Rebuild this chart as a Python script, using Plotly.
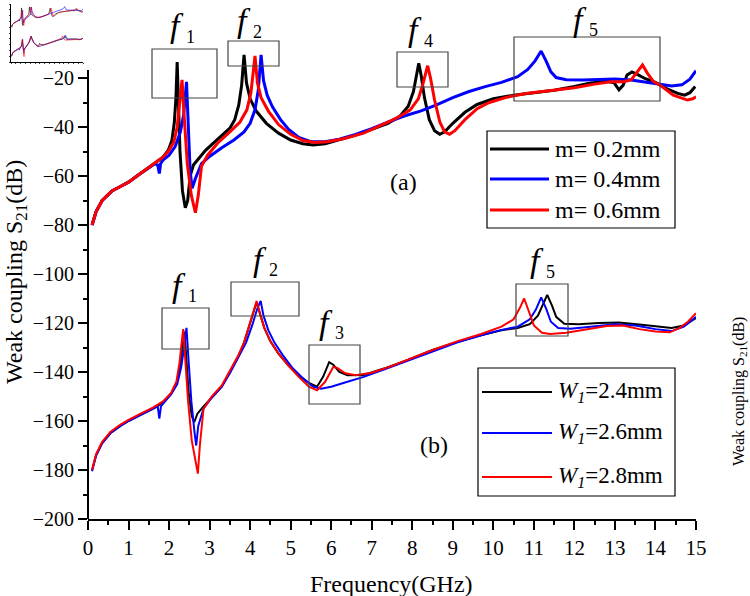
import plotly.graph_objects as go

W, H = 750, 596
FONT = "Liberation Serif, Times New Roman, Times, serif"

# ---------------- data (frequency in GHz, S21 in dB on left axis) ----------------
# panel (a): m = 0.2 / 0.4 / 0.6 mm
freq_a_m02 = [0.1, 0.2, 0.35, 0.6, 0.8, 1.0, 1.25, 1.5, 1.7, 1.85, 1.98, 2.07, 2.13, 2.17, 2.2, 2.23, 2.27, 2.33,
              2.4, 2.46, 2.52, 2.6, 2.75, 2.9, 3.1, 3.3, 3.5, 3.62, 3.72, 3.79, 3.85, 3.91, 4.0, 4.15, 4.4, 4.7,
              5.0, 5.3, 5.55, 5.85, 6.2, 6.6, 7.0, 7.4, 7.7, 7.9, 8.03, 8.1, 8.16, 8.22, 8.3, 8.42, 8.55, 8.68,
              8.8, 9.0, 9.3, 9.6, 10.0, 10.5, 11.0, 11.5, 12.0, 12.4, 12.8, 12.98, 13.1, 13.2, 13.3, 13.42,
              13.55, 13.75, 14.0, 14.12, 14.3, 14.55, 14.72, 14.85, 14.98]
s21_a_m02 = [-80, -74.5, -70, -66, -64.3, -62.5, -59.5, -56.5, -54.3, -52.3, -49.5, -45.5, -38, -28, -13.5, -30, -50,
             -66, -73, -70, -60, -55.5, -52.5, -49.5, -46.5, -43.5, -40.5, -37, -31, -23, -10.6, -22, -28.5,
             -33.5, -38.5, -42.5, -45.3, -46.8, -47.3, -46.8, -45.3, -43.3, -41, -38.5, -35.5, -31.5, -25.5, -20,
             -14, -19, -28, -37, -41.5, -43, -42, -38.5, -34, -30.8, -28.5, -27, -26, -25, -23.5, -22, -21.3,
             -22, -24.8, -23, -18.8, -17.5, -18.5, -20.3, -21.8, -22.9, -24.5, -26.3, -27, -26, -23.5]

freq_a_m04 = [0.1, 0.2, 0.35, 0.6, 0.8, 1.0, 1.25, 1.5, 1.65, 1.72, 1.76, 1.79, 1.85, 2.0, 2.15, 2.28, 2.36, 2.43,
              2.47, 2.52, 2.57, 2.65, 2.8, 3.0, 3.3, 3.6, 3.85, 4.0, 4.12, 4.2, 4.27, 4.33, 4.42, 4.55, 4.75,
              4.95, 5.2, 5.5, 5.85, 6.2, 6.6, 7.0, 7.4, 7.8, 8.2, 8.6, 9.0, 9.4, 9.8, 10.2, 10.6, 10.85, 11.03,
              11.18, 11.3, 11.42, 11.55, 11.8, 12.2, 12.6, 13.0, 13.4, 13.8, 14.12, 14.4, 14.65, 14.85, 15.0]
s21_a_m04 = [-80, -74.5, -70, -66, -64.3, -62.5, -59.5, -56.8, -55, -55.5, -59, -55, -53.5, -51.5, -48, -42, -35,
             -21.6, -40, -58, -65, -61, -55, -52, -48.5, -45.3, -42, -38.5, -33, -25, -10.6, -21, -27, -31.8,
             -37, -41, -44.3, -46, -46, -45, -43, -40.7, -38, -35.5, -33.5, -31, -28, -25.5, -23.5, -21.8,
             -19.5, -16.5, -13, -9, -13, -17.5, -19.8, -20.7, -20.8, -20.6, -20.4, -20.8, -21.8, -22.9, -23.3,
             -22.8, -20.5, -17]

freq_a_m06 = [0.1, 0.2, 0.35, 0.6, 0.8, 1.0, 1.25, 1.5, 1.7, 1.85, 2.0, 2.12, 2.2, 2.27, 2.32, 2.37, 2.45, 2.55,
              2.65, 2.72, 2.8, 2.95, 3.2, 3.5, 3.75, 3.92, 4.02, 4.12, 4.18, 4.27, 4.45, 4.7, 5.0, 5.3, 5.6, 5.9,
              6.3, 6.8, 7.2, 7.6, 7.95, 8.15, 8.27, 8.38, 8.45, 8.55, 8.68, 8.8, 8.92, 9.05, 9.3, 9.6, 9.9, 10.3,
              10.8, 11.4, 12.0, 12.5, 12.9, 13.2, 13.4, 13.55, 13.68, 13.8, 13.95, 14.12, 14.44, 14.79, 14.92,
              15.0]
s21_a_m06 = [-80, -74.5, -70, -66, -64.3, -62.5, -59.5, -56.5, -54.3, -52.3, -49.5, -46, -40, -30, -20.8, -35, -55,
             -68, -75, -68, -56, -51.5, -46.5, -42, -38, -33, -26, -11, -22, -28, -33.5, -39, -43, -45.5,
             -46.3, -46, -44.8, -42.5, -39.5, -36.5, -33, -28.5, -22, -15, -20, -29, -38, -42, -43, -41.5, -37,
             -32.5, -30, -28, -26.3, -25.2, -24, -22.5, -21.5, -21.5, -20.8, -17.5, -14.7, -18, -21.5, -23, -27,
             -29, -28.5, -27.7]

# panel (b): W1 = 2.4 / 2.6 / 2.8 mm (plotted 100 dB lower on the left axis)
freq_b_w24 = [0.1, 0.2, 0.35, 0.55, 0.8, 1.0, 1.3, 1.6, 1.85, 2.05, 2.18, 2.27, 2.33, 2.38, 2.42, 2.48, 2.56, 2.62,
              2.7, 2.85, 3.05, 3.3, 3.5, 3.7, 3.85, 3.98, 4.08, 4.16, 4.24, 4.35, 4.5, 4.7, 4.95, 5.2, 5.45, 5.65,
              5.8, 5.95, 6.05, 6.2, 6.4, 6.8, 7.3, 7.9, 8.5, 9.1, 9.7, 10.2, 10.6, 10.9, 11.1, 11.33, 11.45, 11.55,
              11.75, 12.1, 12.6, 13.1, 13.6, 14.1, 14.4, 14.7, 15.0]
s21_b_w24 = [-180, -174, -169, -165, -162, -160, -157.5, -155, -152.5, -149, -145, -138, -130, -123.5, -133, -148,
             -158, -160.5, -157, -154, -150.5, -146, -140, -134, -128, -121, -115, -111.5, -116, -122, -127.5,
             -132.5, -137.5, -141.5, -144.5, -146, -142, -136, -137, -140, -141.3, -141.2, -138.6, -135, -131,
             -127.8, -125, -123, -122, -120.5, -117, -108.5, -113, -117.5, -120.3, -120.5, -120, -119.8, -120.6,
             -121.5, -122, -121, -118]

freq_b_w26 = [0.1, 0.2, 0.35, 0.55, 0.8, 1.0, 1.3, 1.6, 1.72, 1.76, 1.8, 1.9, 2.05, 2.2, 2.3, 2.37, 2.43, 2.48,
              2.55, 2.63, 2.67, 2.72, 2.85, 3.05, 3.3, 3.5, 3.7, 3.9, 4.05, 4.18, 4.26, 4.33, 4.45, 4.6, 4.8, 5.05,
              5.3, 5.55, 5.75, 6.0, 6.3, 6.8, 7.3, 7.9, 8.5, 9.1, 9.7, 10.2, 10.6, 10.9, 11.05, 11.18, 11.3, 11.42,
              11.6, 11.9, 12.4, 13.0, 13.5, 14.0, 14.4, 14.7, 15.0]
s21_b_w26 = [-180.5, -174, -169, -165, -162, -160, -157.5, -155, -154, -159, -154, -152, -149, -145, -138, -130,
             -122, -135, -152, -165, -170, -162, -155, -150.5, -146, -140.5, -134.5, -128, -121, -114, -111,
             -117, -123, -128, -133, -138.5, -142.5, -146, -146.8, -146, -144.5, -142, -139, -135.3, -131.5,
             -128, -125, -122.8, -121.5, -118.5, -114.5, -109.5, -114, -119.5, -122, -122.3, -121.5, -120.5,
             -121, -122.5, -123.3, -121.5, -117.5]

freq_b_w28 = [0.1, 0.2, 0.35, 0.55, 0.8, 1.0, 1.3, 1.6, 1.85, 2.05, 2.18, 2.26, 2.31, 2.35, 2.4, 2.47, 2.56, 2.66,
              2.71, 2.76, 2.85, 3.05, 3.3, 3.5, 3.7, 3.85, 3.98, 4.08, 4.16, 4.24, 4.35, 4.5, 4.7, 4.95, 5.2, 5.45,
              5.65, 5.85, 6.05, 6.15, 6.35, 6.6, 7.0, 7.5, 8.0, 8.5, 9.1, 9.7, 10.2, 10.5, 10.65, 10.76, 10.87,
              11.0, 11.2, 11.4, 11.8, 12.3, 12.8, 13.2, 13.6, 14.0, 14.35, 14.6, 14.8, 15.0]
s21_b_w28 = [-180, -173.5, -168.5, -164.5, -161.5, -159.5, -157, -154.5, -152, -148.5, -144, -136, -128, -122.5,
             -135, -152, -168, -178, -181.5, -170, -155, -150, -145.5, -139.5, -133.5, -128, -121, -115, -111,
             -116, -122, -127.5, -132.5, -137.5, -142, -146, -147.5, -144, -138, -138.3, -140.5, -141.3, -140.3,
             -137.5, -134.3, -131, -127.5, -124.5, -121.5, -118.5, -114, -110, -115, -121, -124, -124.5, -124,
             -122.5, -121.2, -121, -122.5, -123.5, -123.8, -122, -119.5, -116]

legend_a_labels = ["m= 0.2mm", "m= 0.4mm", "m= 0.6mm"]
legend_b_labels = ["<i>W</i><sub><i>1</i></sub>=2.4mm", "<i>W</i><sub><i>1</i></sub>=2.6mm",
                   "<i>W</i><sub><i>1</i></sub>=2.8mm"]
x_ticks = list(range(0, 16))
left_ticks = list(range(-200, 0, 20))
right_ticks = list(range(-100, 1, 20))

# ---------------- helpers ----------------
def px(x):
    return x / W


def py(y):
    return 1 - y / H


COL = {"k": "#000000", "b": "#0000ff", "r": "#ff0000"}

series = [
    (freq_a_m02, s21_a_m02, COL["k"], 3),
    (freq_a_m04, s21_a_m04, COL["b"], 3),
    (freq_a_m06, s21_a_m06, COL["r"], 3),
    (freq_b_w24, s21_b_w24, COL["k"], 2),
    (freq_b_w26, s21_b_w26, COL["b"], 2),
    (freq_b_w28, s21_b_w28, COL["r"], 2),
]

fig = go.Figure()
for f, s, c, w in series:
    fig.add_trace(go.Scatter(x=f, y=s, mode="lines", line=dict(color=c, width=w),
                             xaxis="x", yaxis="y", showlegend=False, hoverinfo="skip"))
for f, s, c, w in series:
    fig.add_trace(go.Scatter(x=f, y=s, mode="lines", line=dict(color=c, width=0.6),
                             xaxis="x3", yaxis="y3", showlegend=False, hoverinfo="skip"))

X0, X1 = 88, 696          # pixel positions of 0 and 15 GHz
Y_BOT, Y_TOP = 519, 29     # pixel positions of -200 and 0 dB (left axis)
Y_R0 = 274                 # right axis 0 dB

fig.update_layout(
    width=W, height=H, margin=dict(l=0, r=0, t=0, b=0),
    template="none", paper_bgcolor="white", plot_bgcolor="rgba(0,0,0,0)",
    font=dict(family=FONT, color="black"),
    showlegend=False,
    xaxis=dict(domain=[px(X0), px(X1)], range=[0, 15], anchor="y", tickmode="array", tickvals=x_ticks,
               ticks="outside", ticklen=9, tickwidth=1.5, tickcolor="black", showline=True, linewidth=2,
               linecolor="black", showgrid=False, zeroline=False, tickfont=dict(size=21, family=FONT),
               minor=dict(tickmode="array", tickvals=[i + 0.5 for i in range(15)], ticks="outside",
                          ticklen=4, tickwidth=1.5, tickcolor="black", showgrid=False),
               automargin=False),
    yaxis=dict(domain=[py(Y_BOT), py(Y_TOP)], range=[-200, 0], anchor="x", tickmode="array", tickvals=left_ticks,
               ticks="outside", ticklen=9, tickwidth=1.5, tickcolor="black", showline=False, showgrid=False,
               zeroline=False, tickfont=dict(size=20, family=FONT),
               minor=dict(tickmode="array", tickvals=list(range(-190, -20, 20)), ticks="outside", ticklen=4,
                          tickwidth=1.5, tickcolor="black", showgrid=False),
               automargin=False),
    yaxis2=dict(domain=[py(Y_BOT), py(Y_R0)], range=[-100, 0], anchor="x", side="right", tickmode="array",
                tickvals=right_ticks, ticks="inside", ticklen=6, tickwidth=1.5, tickcolor="black",
                showline=True, linewidth=2, linecolor="black", showgrid=False, zeroline=False,
                tickfont=dict(size=14, family=FONT),
                minor=dict(tickmode="array", tickvals=list(range(-90, 0, 20)), ticks="inside", ticklen=3,
                           tickwidth=1.5, tickcolor="black", showgrid=False),
                automargin=False),
    xaxis3=dict(domain=[px(11), px(83)], range=[0, 15], anchor="y3", showline=True, linewidth=0.8,
                linecolor="black", ticks="outside", ticklen=1.5, tickwidth=0.5, dtick=1,
                showticklabels=False, showgrid=False, zeroline=False, automargin=False),
    yaxis3=dict(domain=[py(62), py(4)], range=[-200, 0], anchor="x3", showline=True, linewidth=0.8,
                linecolor="black", ticks="outside", ticklen=1.5, tickwidth=0.5, dtick=20,
                showticklabels=False, showgrid=False, zeroline=False, automargin=False),
)

shapes = []
# partial left axis line
shapes.append(dict(type="line", xref="paper", yref="y", x0=px(X0), x1=px(X0), y0=-200, y1=-16.7,
                   line=dict(color="black", width=2)))

# peak marker boxes (pixel coordinates)
boxes = [(152, 49, 217, 98), (228, 41, 279, 66), (397, 52, 448, 87), (514, 37, 660, 101),
         (162, 308, 209, 349), (231, 282, 299, 316), (309, 345, 360, 404), (516, 284, 568, 336)]
for x0, y0, x1, y1 in boxes:
    shapes.append(dict(type="rect", xref="paper", yref="paper", x0=px(x0), x1=px(x1), y0=py(y1), y1=py(y0),
                       line=dict(color="#444444", width=1.2)))

# legend boxes
shapes.append(dict(type="rect", xref="paper", yref="paper", x0=px(487), x1=px(675), y0=py(228), y1=py(131),
                   line=dict(color="black", width=1.2), fillcolor="rgba(255,255,255,0)"))
shapes.append(dict(type="rect", xref="paper", yref="paper", x0=px(478), x1=px(675), y0=py(496), y1=py(368),
                   line=dict(color="black", width=1.2), fillcolor="rgba(255,255,255,0)"))

annotations = []


def label(text, x, y, size, xanchor="center", angle=0):
    annotations.append(dict(text=text, x=px(x), y=py(y), xref="paper", yref="paper", xanchor=xanchor,
                            yanchor="middle", showarrow=False, textangle=angle,
                            font=dict(size=size, family=FONT), borderpad=0))


colors = [COL["k"], COL["b"], COL["r"]]
rows_a = [149, 179, 210]
rows_b = [392, 433, 477]
for lab, c, yy in zip(legend_a_labels, colors, rows_a):
    shapes.append(dict(type="line", xref="paper", yref="paper", x0=px(490), x1=px(549), y0=py(yy), y1=py(yy),
                       line=dict(color=c, width=3)))
    label(lab, 554, yy, 24, xanchor="left")
for lab, c, yy in zip(legend_b_labels, colors, rows_b):
    shapes.append(dict(type="line", xref="paper", yref="paper", x0=px(482), x1=px(552), y0=py(yy), y1=py(yy),
                       line=dict(color=c, width=2)))
    label(lab, 557, yy, 23, xanchor="left")

# peak labels f_n : (f centre x, f centre y, subscript)
peak_labels = [(177, 26, "1"), (244, 21, "2"), (415, 30, "4"), (580, 19, "5"),
               (179, 285, "1"), (260, 259, "2"), (326, 322, "3"), (537, 261, "5")]
for fx, fy, sub in peak_labels:
    label("<i>f</i>", fx, fy, 34)
    label(sub, fx + 13, fy + 11, 18)

label("(a)", 404, 182, 24)
label("(b)", 434, 445, 24)
label("Frequency(GHz)", 392, 584, 24)
label("Weak coupling S<sub>21</sub>(dB)", 16, 272, 24, angle=-90)
label("Weak coupling S<sub>21</sub>(dB)", 739, 392, 16, angle=-90)

fig.update_layout(shapes=shapes, annotations=annotations)
fig.write_html("out.html")
